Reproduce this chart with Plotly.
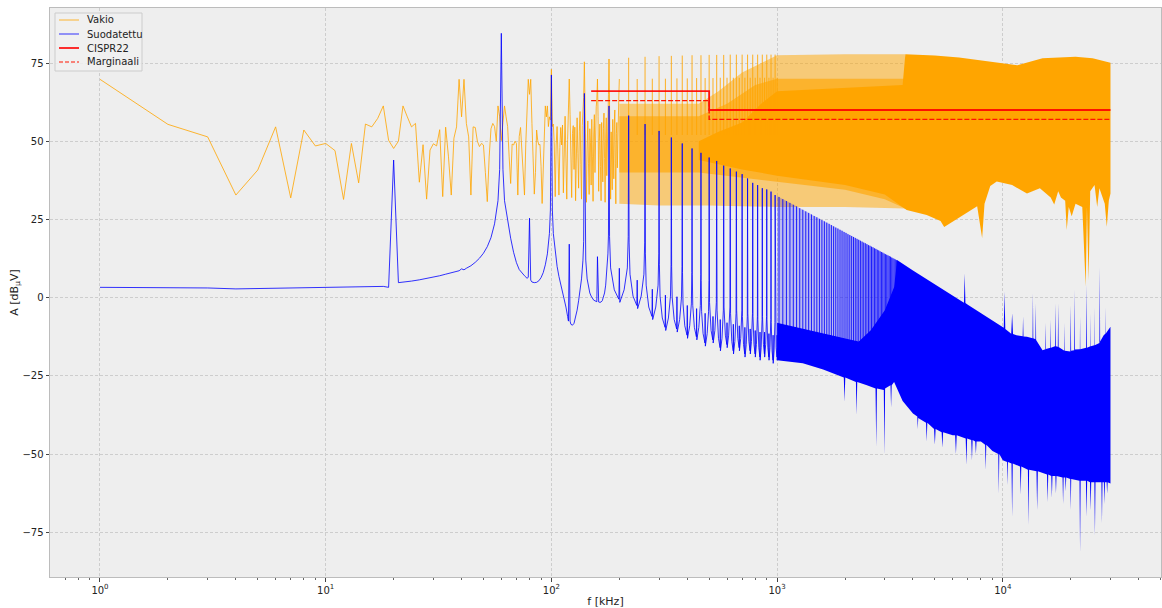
import plotly.graph_objects as go

# ---------------- DATA (frequencies in kHz, levels in dBuV) ----------------
# Vakio (unfiltered) - low-frequency bins read one by one (1 kHz resolution)
vakio_f = list(range(1, 201))
vakio_v = [69.8, 55.4, 51.4, 32.8, 40.8, 54.6, 31.9, 53.6, 48.5, 49.3,
           47.0, 31.4, 49.3, 36.7, 55.5, 54.6, 57.3, 61.3, 50.3, 47.7,
           50.0, 61.3, 57.8, 54.6, 55.7, 36.9, 48.9, 31.5, 47.2, 49.2,
           48.5, 53.7, 32.3, 54.5, 45.0, 32.8, 51.0, 54.6, 69.8, 57.8,
           69.8, 55.7, 51.4, 32.8, 54.6, 54.4, 50.0, 48.3, 49.3, 48.8,
           40.0, 30.7, 45.0, 54.0, 55.7, 54.7, 50.0, 61.3, 57.8, 50.2,
           56.0, 61.3, 57.8, 54.7, 45.0, 36.5, 49.1, 48.8, 50.0, 49.3,
           32.8, 51.5, 54.4, 48.0, 40.0, 32.8, 49.1, 60.0, 69.8, 65.0,
           69.8, 55.7, 45.0, 33.1, 40.0, 53.6, 50.2, 48.8, 49.0, 42.0,
           30.1, 40.0, 54.7, 61.3, 57.8, 61.3, 54.7, 57.8, 56.8, 73.0,
           54.7, 55.5, 48.8, 32.3, 48.8, 54.7, 45.0, 32.8, 48.0, 54.4,
           48.8, 55.2, 33.5, 52.0, 58.0, 44.0, 31.5, 50.5, 62.0, 69.9,
           58.5, 47.0, 32.0, 52.5, 55.0, 41.0, 54.5, 31.0, 49.0, 57.5,
           46.0, 35.0, 53.0, 59.5, 42.5, 31.5, 55.0, 60.0, 64.0, 75.4,
           63.0, 52.0, 30.5, 47.5, 56.5, 43.0, 33.0, 54.0, 49.5, 36.0,
           57.0, 45.0, 30.8, 52.0, 58.5, 40.0, 53.5, 61.0, 63.5, 69.9,
           58.0, 34.0, 50.0, 55.5, 42.0, 31.0, 56.0, 48.0, 37.0, 54.0,
           59.0, 44.5, 30.5, 51.0, 57.5, 39.0, 55.0, 62.0, 65.0, 76.3,
           60.0, 49.0, 31.5, 53.0, 46.0, 34.5, 57.0, 50.0, 38.0, 55.5,
           60.0, 43.0, 30.0, 52.5, 56.0, 41.5, 54.0, 61.0, 64.5, 69.9]

# Vakio harmonic spikes (20 kHz harmonics) 220 kHz ... 1 MHz
vakio_spike_f = [220, 240, 260, 280, 300, 320, 340, 360,
                 380, 400, 420, 440, 460, 480, 500, 520, 540, 560, 580, 600, 620, 640,
                 660, 680, 700, 720, 740, 760, 780, 800, 820, 840, 860, 880, 900, 920,
                 940, 960, 980, 1000]
vakio_spike_v = [76.7, 69.9, 77.0, 70.0, 77.2, 70.0, 77.3, 70.1,
                 77.4, 70.1, 77.5, 70.2, 77.5, 70.2, 77.6, 70.2, 77.6, 70.3, 77.6, 70.3, 77.7, 70.3,
                 77.7, 70.3, 77.7, 70.3, 77.7, 70.3, 77.7, 70.3, 77.7, 70.3, 77.7, 70.3, 77.7, 70.3,
                 77.7, 70.3, 77.7, 70.3]

# Vakio dense region: outer (sparse stripes) envelope
vakio_outer_top_f = [200, 300, 450, 550, 700, 1000, 2000, 3700]
vakio_outer_top_v = [62, 62, 62, 66, 72, 77.5, 77.8, 77.8]
vakio_outer_bot_f = [200, 300, 500, 1000, 2000, 3700]
vakio_outer_bot_v = [30, 29.5, 29.5, 29, 29, 28.5]
# Vakio dense region: middle envelope
vakio_mid_top_f = [200, 450, 600, 800, 1000, 3700]
vakio_mid_top_v = [58, 58, 62, 68, 70, 70]
vakio_mid_bot_f = [200, 450, 700, 1000, 2000, 3000, 3700]
vakio_mid_bot_v = [40, 40, 38.5, 37, 34.5, 31.5, 28.5]
# Vakio dense region: solid core envelope
vakio_core_top_f = [450, 550, 700, 850, 1000, 3600, 3700, 5000, 6400, 8900, 11600, 15000,
                    21000, 25000, 30000]
vakio_core_top_v = [50, 53, 56, 62, 66, 68, 77.8, 77.4, 76.8, 75.4, 74.3, 76.5,
                    77.0, 76.5, 75.1]
vakio_core_bot_f = [450, 700, 1000, 2000, 3000, 3750, 4600, 5300, 5500, 6100, 6900, 7700,
                    8100, 8300, 8800, 9400, 11000, 12800, 14600, 16300, 16900, 17600,
                    18100, 18900, 19200, 19600, 20200, 21000, 22500, 23300, 23600, 24000,
                    24400, 25500, 26200, 26800, 28300, 28900, 29500, 30000]
vakio_core_bot_v = [44, 41, 39, 36, 33, 28, 26.4, 24.5, 22.6, 24.5, 27.1, 29.2,
                    19.1, 30, 35.7, 37.1, 36, 33.3, 35, 32, 29.8, 34,
                    32, 31, 21.6, 29, 26, 30, 29, 3.5, 29, 5.5,
                    34, 36, 29, 35, 30, 22.7, 31, 33.3]

# Suodatettu (filtered) - explicit trace up to ~1 MHz
suod_f = [1, 2, 3, 4, 5, 6, 7, 8, 9, 10, 11, 12, 13, 14, 15, 16, 17, 18, 19, 20,
          21, 22, 24, 26, 28, 30, 32, 34, 36, 38, 39, 40, 41, 42, 44, 46, 48, 50, 52, 54,
          56, 58, 59, 60, 61, 62, 64, 66, 68, 70, 72, 74, 76, 78, 79, 80, 81, 82, 84, 86,
          88, 90, 92, 94, 96, 98, 99,
          100, 101, 102, 104, 106, 108, 110, 112, 114, 116, 118, 119, 120, 121, 122, 124,
          126, 128, 130, 132, 134, 136, 138, 139,
          140, 141, 142, 144, 146, 148, 150, 152, 154, 156, 158, 159, 160, 161, 162, 164,
          166, 168, 170, 172, 174, 176, 178, 179,
          180, 181, 183, 190, 199, 200, 201, 210, 217, 219,
          220, 221, 223, 230, 239, 240, 241, 250, 257, 259,
          260, 261, 263, 270, 279, 280, 281, 290, 297, 299,
          300, 301, 303, 310, 319, 320, 321, 330, 337, 339,
          340, 341, 343, 350, 359, 360, 361, 370, 377, 379,
          380, 381, 383, 390, 399, 400, 401, 410, 417, 419,
          420, 421, 423, 430, 439, 440, 441, 450, 457, 459,
          460, 461, 463, 470, 479, 480, 481, 490, 497, 499,
          500, 502, 510, 519, 520, 521, 530, 538,
          540, 542, 550, 559, 560, 561, 570, 578,
          580, 582, 590, 599, 600, 601, 610, 618,
          620, 622, 630, 639, 640, 641, 650, 658,
          660, 662, 670, 679, 680, 681, 690, 698,
          700, 702, 710, 719, 720, 721, 730, 738,
          740, 742, 750, 759, 760, 761, 770, 778,
          780, 782, 790, 799, 800, 801, 810, 818,
          820, 822, 830, 839, 840, 841, 850, 858,
          860, 862, 870, 879, 880, 881, 890, 898,
          900, 902, 910, 919, 920, 921, 930, 938,
          940, 942, 950, 959, 960, 961, 970, 978,
          980, 982, 990, 999, 1000, 1001, 1010]
suod_v = [3.3, 3.2, 3.1, 2.8, 2.9, 3.0, 3.1, 3.2, 3.2, 3.3, 3.3, 3.4, 3.4, 3.5, 3.5, 3.5, 3.6, 3.6, 3.3, 44.0,
          4.8, 4.9, 5.3, 5.7, 6.1, 6.5, 7.0, 7.5, 8.0, 8.3, 8.6, 9.2, 8.9, 9.4, 10.2, 11.3, 12.6, 14.2, 16.3, 19.2,
          23.6, 31.0, 41.0, 84.5, 41.0, 31.0, 24.5, 19.0, 14.5, 11.2, 9.0, 7.8, 7.0, 6.2, 6.5, 25.4, 5.6, 5.0, 4.8, 4.9,
          5.4, 6.4, 8.0, 10.5, 14.0, 20.5, 28.0,
          71.2, 28.0, 20.5, 14.5, 10.0, 6.8, 4.5, 2.0, -0.5, -3.0, -6.0, -7.5, 17.1, -7.5, -8.5, -8.8,
          -8.2, -6.5, -4.0, -1.0, 2.0, 6.0, 12.0, 18.0,
          65.3, 18.0, 12.0, 6.0, 3.0, 1.5, 0.5, -0.3, -0.8, -1.0, -1.2, -1.3, 13.1, -1.3, -1.4, -1.5,
          -1.4, -1.0, 0.0, 1.5, 4.0, 8.0, 14.0, 20.0,
          61.3, 19.5, 9.5, 2.5, -0.5, 9.4, -1.5, 2.5, 9.5, 19.5,
          58.2, 17.5, 7.5, 0.5, -2.5, 5.6, -3.5, 0.5, 7.5, 17.5,
          55.5, 14.0, 4.0, -3.0, -6.0, 2.7, -7.0, -3.0, 4.0, 14.0,
          53.3, 10.5, 0.5, -6.5, -9.5, 0.8, -10.5, -6.5, 0.5, 10.5,
          51.2, 10.0, 0.0, -7.0, -10.0, 0.3, -11.0, -7.0, 0.0, 10.0,
          49.3, 8.0, -2.0, -9.0, -12.0, -2.5, -13.0, -9.0, -2.0, 8.0,
          47.7, 7.5, -2.5, -9.5, -12.5, -3.5, -13.5, -9.5, -2.5, 7.5,
          46.3, 5.5, -4.5, -11.5, -14.5, -5.0, -15.5, -11.5, -4.5, 5.5,
          44.8, -1.5, -10.5, -13.5, -6.0, -14.5, -10.5, -1.5,
          43.7, -4.0, -13.0, -16.0, -7.0, -17.0, -13.0, -4.0,
          42.2, -3.0, -12.0, -15.0, -8.0, -16.0, -12.0, -3.0,
          41.3, -5.0, -14.0, -17.0, -8.5, -18.0, -14.0, -5.0,
          40.3, -4.0, -13.0, -16.0, -9.0, -17.0, -13.0, -4.0,
          39.5, -6.0, -15.0, -18.0, -9.5, -19.0, -15.0, -6.0,
          38.1, -5.0, -14.0, -17.0, -10.0, -18.0, -14.0, -5.0,
          36.7, -6.0, -15.0, -18.0, -10.5, -19.0, -15.0, -6.0,
          36.0, -7.0, -16.0, -19.0, -11.0, -20.0, -16.0, -7.0,
          35.0, -6.0, -15.0, -18.0, -11.0, -19.0, -15.0, -6.0,
          34.6, -7.0, -16.0, -19.0, -11.5, -20.0, -16.0, -7.0,
          33.9, -8.0, -17.0, -20.0, -12.0, -21.0, -17.0, -8.0,
          32.8, -7.0, -16.0, -19.0, -12.0, -20.0, -16.0]

# Suodatettu odd-harmonic peaks 1.02 - 3.38 MHz (read along the peak envelope)
suod_peak_f = [1020, 1060, 1100, 1140, 1180, 1220, 1260, 1300, 1340, 1380, 1420, 1460,
               1500, 1540, 1580, 1620, 1660, 1700, 1740, 1780, 1820, 1860, 1900, 1940,
               1980, 2020, 2060, 2100, 2140, 2180, 2220, 2260, 2300, 2340, 2380, 2420,
               2460, 2500, 2540, 2580, 2620, 2660, 2700, 2740, 2780, 2820, 2860, 2900,
               2940, 2980, 3020, 3060, 3100, 3140, 3180, 3220, 3260, 3300, 3340, 3380]
suod_peak_v = [32.2, 31.5, 30.9, 30.3, 29.7, 29.2, 28.6, 28.1, 27.6, 27.1, 26.6, 26.1,
               25.7, 25.2, 24.8, 24.4, 24.0, 23.6, 23.2, 22.8, 22.4, 22.1, 21.7, 21.4,
               21.0, 20.7, 20.3, 20.0, 19.7, 19.4, 19.1, 18.8, 18.5, 18.2, 17.9, 17.6,
               17.4, 17.1, 16.8, 16.6, 16.3, 16.1, 15.8, 15.6, 15.3, 15.1, 14.8, 14.6,
               14.4, 14.1, 13.9, 13.7, 13.5, 13.3, 13.1, 12.8, 12.6, 12.4, 12.2, 12.0]

# Suodatettu dense region: harmonic-stripe envelope (1 - 3.4 MHz)
suod_stripe_top_f = [1000, 1500, 2000, 2500, 3000, 3400]
suod_stripe_top_v = [32.5, 25.7, 20.8, 17.1, 14.0, 12.0]
# Suodatettu dense region: solid core, upper edge
suod_core_top_f = [1000, 1500, 2000, 2300, 2600, 3000, 3300, 3400, 4000, 5000, 6000,
                   6730, 6780, 6830, 7000, 8000, 9000, 10000, 10100, 10180, 10260,
                   10900, 11000, 11100, 11500, 12250, 12300, 12350, 12800, 13550, 13600,
                   13650, 13950, 14000, 14050, 15000, 15450, 15500, 15550, 16250, 16300,
                   16350, 17030, 17100, 17170, 17530, 17600, 17670, 18750, 18800, 18850,
                   19920, 20000, 20080, 20720, 20800, 20880, 21950, 22000, 22050, 23400,
                   23500, 23600, 24450, 24500, 24550, 25450, 25500, 25550, 26800, 26900,
                   27000, 28000, 28450, 28500, 28550, 30000]
suod_core_top_v = [-8, -11, -13, -14, -10.4, -4, 3.4, 12.0, 8.7, 4.3, 0.7,
                   -1.6, 7.7, -1.7, -2.3, -4.9, -7.2, -9.3, -9.6, 1.9, -10,
                   -11.5, -5, -11.6, -12, -12.3, -6, -12.4, -12.5, -13, 1.4,
                   -13, -13.3, -1.8, -13.5, -16.8, -16.5, -8, -16.4, -16, -7,
                   -16, -15.5, -1.8, -15.5, -15.7, -1.8, -15.8, -17, -8, -17,
                   -17.2, -2.4, -17, -16.8, 2.6, -16.6, -16.5, -6, -16.5, -16,
                   4.2, -16, -15.5, -5, -15.5, -15.2, -3, -15.2, -14.5, 9.8,
                   -14, -12, -11.5, -3, -11.5, -9.3]
# Suodatettu dense region: solid core, lower edge
suod_core_bot_f = [1000, 1300, 1600, 1975, 1990, 2005, 2235, 2250, 2265, 2500, 2730, 2750, 2770,
                   2970, 2990, 3010, 3180, 3200, 3220, 3300, 3600, 4000, 4180, 4200, 4220,
                   4570, 4600, 4630, 4960, 5000, 5040, 5360, 5400, 5440, 6000, 6150, 6200,
                   6250, 6850, 6900, 6950, 7250, 7300, 7350, 7550, 7600, 7650, 8000, 8350,
                   8400, 8450, 9000, 9550, 9600, 9650, 10000, 10450, 10500, 10550, 10930,
                   11000, 11070, 11920, 12000, 12080, 12920, 13000, 13080, 14100, 14200,
                   14300, 15000, 15700, 15800, 15900, 16400, 16500, 16600, 17100, 17200,
                   17300, 18400, 18500, 18600, 18900, 19000, 19100, 19900, 20000, 20100,
                   21870, 22000, 22130, 23350, 23500, 23650, 24350, 24500, 24650, 25450,
                   25600, 25750, 27350, 27500, 27650, 28050, 28200, 28350, 28850, 29000,
                   29150, 30000]
suod_core_bot_v = [-20, -21, -23, -25.5, -33.3, -25.5, -27, -37.5, -27, -28, -29, -47.7, -29,
                   -29.5, -50.3, -29, -28, -35, -28, -27, -33, -37, -38, -42, -38.5,
                   -40, -46, -40, -42, -47, -42, -43, -48, -43, -44, -44, -50,
                   -44, -45, -53.5, -45, -45.5, -52, -45.5, -46, -50, -46, -46, -47,
                   -55, -47, -49, -50, -62.6, -50, -52, -52.5, -60, -52.5, -53,
                   -70, -53, -54, -63, -54, -55, -72.7, -55, -55.5, -67.9,
                   -55.5, -56, -56.5, -65.3, -56.5, -57, -64, -57, -57, -62.6,
                   -57, -57.5, -66, -57.5, -57.5, -62, -57.5, -58, -67.9, -58,
                   -58.5, -81.2, -58.5, -58.5, -70, -58.5, -59, -68, -59, -59,
                   -75.9, -59, -59, -72, -59, -59, -66, -59, -59, -62.6,
                   -59, -59.4]

# CISPR 22 limit and 3 dB margin
cispr_f = [150, 500, 500, 30000]
cispr_v = [66, 66, 60, 60]
marg_f = [150, 500, 500, 30000]
marg_v = [63, 63, 57, 57]

tick_vals = [1, 10, 100, 1000, 10000]
tick_text = ["10<sup>0</sup>", "10<sup>1</sup>", "10<sup>2</sup>", "10<sup>3</sup>", "10<sup>4</sup>"]

legend_names = ["Vakio", "Suodatettu", "CISPR22", "Marginaali"]

# ---------------- FIGURE ----------------
ORANGE = "rgb(255,165,0)"
BLUE = "rgb(0,0,255)"
C_VAKIO = "rgba(255,165,0,0.8)"
C_SUOD = "rgba(0,0,255,0.8)"
C_CISPR = "rgba(255,0,0,0.9)"
C_MARG = "rgb(255,20,0)"


def poly(tf, tv, bf, bv):
    return list(tf) + list(bf)[::-1], list(tv) + list(bv)[::-1]


def band(tf, tv, bf, bv, color):
    x, y = poly(tf, tv, bf, bv)
    return go.Scatter(x=x, y=y, mode="lines", fill="toself", fillcolor=color,
                      line=dict(width=0, color=color), showlegend=False, hoverinfo="skip")


def spikes(fs, vs, base, color):
    sx, sy = [], []
    for f, v in zip(fs, vs):
        sx += [f, f, None]
        sy += [base, v, None]
    return go.Scatter(x=sx, y=sy, mode="lines", line=dict(color=color, width=1),
                      showlegend=False, hoverinfo="skip")


fig = go.Figure()

# Vakio dense parts
fig.add_trace(band(vakio_outer_top_f, vakio_outer_top_v, vakio_outer_bot_f, vakio_outer_bot_v,
                   "rgba(255,165,0,0.5)"))
fig.add_trace(band(vakio_mid_top_f, vakio_mid_top_v, vakio_mid_bot_f, vakio_mid_bot_v,
                   "rgba(255,165,0,0.62)"))
fig.add_trace(band(vakio_core_top_f, vakio_core_top_v, vakio_core_bot_f, vakio_core_bot_v,
                   ORANGE))
fig.add_trace(spikes(vakio_spike_f, vakio_spike_v, 52, "rgba(255,165,0,0.85)"))
fig.add_trace(go.Scatter(x=vakio_f, y=vakio_v, mode="lines", name=legend_names[0],
                         line=dict(color=C_VAKIO, width=1), showlegend=False))

# Suodatettu
fig.add_trace(band(suod_stripe_top_f, suod_stripe_top_v,
                   [f for f in suod_core_top_f if f <= 3400],
                   [v for f, v in zip(suod_core_top_f, suod_core_top_v) if f <= 3400],
                   "rgba(0,0,255,0.22)"))
fig.add_trace(spikes(suod_peak_f, suod_peak_v, -15, "rgba(0,0,255,0.85)"))
fig.add_trace(band(suod_core_top_f, suod_core_top_v, suod_core_bot_f, suod_core_bot_v, BLUE))
fig.add_trace(go.Scatter(x=suod_f, y=suod_v, mode="lines", name=legend_names[1],
                         line=dict(color=C_SUOD, width=1), showlegend=False))

# Limits
fig.add_trace(go.Scatter(x=cispr_f, y=cispr_v, mode="lines", name=legend_names[2],
                         line=dict(color=C_CISPR, width=1.8), showlegend=False))
fig.add_trace(go.Scatter(x=marg_f, y=marg_v, mode="lines", name=legend_names[3],
                         line=dict(color=C_MARG, width=1.4, dash="5px,2px"), showlegend=False))

# Compact legend box (matplotlib-like spacing), placed in the upper-left corner of the axes
PLOT_W, PLOT_H = 1111.0, 569.0
def px_x(p):
    return (p - 50) / PLOT_W
def px_y(p):
    return 1 - (p - 8) / PLOT_H

shapes = [dict(type="rect", xref="paper", yref="paper", x0=px_x(55), x1=px_x(142),
               y0=px_y(71), y1=px_y(13), fillcolor="rgba(240,240,240,0.85)",
               line=dict(color="#cccccc", width=1), layer="above")]
annotations = []
leg_styles = [(C_VAKIO, 1, "solid"), (C_SUOD, 1, "solid"), (C_CISPR, 1.8, "solid"),
              (C_MARG, 1.2, "4px,2px")]
for i, (name, (col, w, d)) in enumerate(zip(legend_names, leg_styles)):
    yy = 20 + 14 * i
    shapes.append(dict(type="line", xref="paper", yref="paper", x0=px_x(59), x1=px_x(79),
                       y0=px_y(yy), y1=px_y(yy), line=dict(color=col, width=w, dash=d),
                       layer="above"))
    annotations.append(dict(text=name, xref="paper", yref="paper", x=px_x(85), y=px_y(yy),
                            xanchor="left", yanchor="middle", showarrow=False,
                            font=dict(family="DejaVu Sans", size=10, color="#222")))

axis_common = dict(showline=True, linecolor="#bcbcbc", linewidth=1, mirror=True,
                   gridcolor="#cdcdcd", gridwidth=0.8, griddash="3px,2px",
                   ticks="outside", ticklen=3.5, tickcolor="#444",
                   tickfont=dict(family="DejaVu Sans", size=10, color="#222"),
                   zeroline=False)

fig.update_layout(
    width=1162, height=608,
    margin=dict(l=50, r=1, t=8, b=31),
    paper_bgcolor="white", plot_bgcolor="#eeeeee",
    font=dict(family="DejaVu Sans", size=10, color="#222"),
    xaxis=dict(type="log", range=[-0.2215, 4.701], tickvals=tick_vals, ticktext=tick_text,
               title=dict(text="f [kHz]", font=dict(size=11), standoff=4),
               minor=dict(ticks="outside", ticklen=2, tickcolor="#666", dtick="D1", showgrid=False),
               **axis_common),
    yaxis=dict(range=[-89.3, 92.6], tickvals=[-75, -50, -25, 0, 25, 50, 75],
               title=dict(text="A [dB<sub>μ</sub>V]", font=dict(size=11), standoff=1),
               **axis_common),
    shapes=shapes,
    annotations=annotations,
    showlegend=False,
)

fig.write_html("out.html")
